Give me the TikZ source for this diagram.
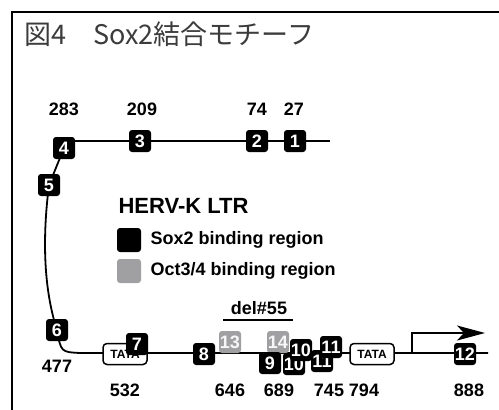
\documentclass[tikz,border=0pt]{standalone}
\usepackage{fontspec}
\setmainfont{Liberation Sans}
\newfontfamily\jpfont{Noto Sans CJK JP}
\usetikzlibrary{arrows.meta,backgrounds}
\definecolor{titlegray}{RGB}{60,60,60}
\definecolor{octgray}{RGB}{160,160,163}

\begin{document}
\begin{tikzpicture}[x=1pt, y=-1pt,
    site/.style={fill=black, text=white, rounded corners=3pt, minimum size=22pt, inner sep=0pt, font=\fontsize{18}{18}\selectfont\bfseries},
    octsite/.style={site, fill=octgray, text=white!92!octgray},
    tata/.style={draw, line width=1.5pt, fill=white, rounded corners=4pt, minimum width=44pt, minimum height=21pt, inner sep=0pt, font=\fontsize{12}{12}\selectfont\bfseries},
    bplabel/.style={font=\fontsize{18}{18}\selectfont\bfseries},
    legtext/.style={anchor=west, font=\fontsize{18}{18}\selectfont\bfseries},
    dna/.style={line width=1.8pt}]
    \useasboundingbox (0,0) rectangle (499,410);
    \draw[line width=2pt] (12,410) -- (12,12) -- (499,12);
    \node[anchor=west, text=titlegray, font=\jpfont\fontsize{27}{27}\selectfont] (title) at (21,34) {図4　Sox2結合モチーフ};

    \node[bplabel] (p283) at (64,109) {283};
    \node[bplabel] (p209) at (142,109) {209};
    \node[bplabel] (p74) at (257,109) {74};
    \node[bplabel] (p27) at (294,109) {27};

    \node[site] (b4) at (64,148) {4};
    \node[site] (b3) at (140,141) {3};
    \node[site] (b2) at (257,141) {2};
    \node[site] (b1) at (295,141) {1};
    \node[site] (b5) at (49,185) {5};
    \node[site] (b6) at (57,330) {6};
    \coordinate (topend) at (330,141);
    \coordinate (botstart) at (80,353);
    \coordinate (botend) at (488,353);

    \node[anchor=west, font=\fontsize{22}{22}\selectfont\bfseries] (legtitle) at (115,206) {HERV-K LTR};
    \node[site, minimum size=24pt] (legsox) at (129,240) {};
    \node[legtext] (legsoxtxt) at (147,240) {Sox2 binding region};
    \node[octsite, minimum size=24pt] (legoct) at (129,271) {};
    \node[legtext] (legocttxt) at (147,271) {Oct3/4 binding region};

    \node[bplabel] (del) at (259,308) {del\#55};
    \draw[line width=1.5pt] (223,320) -- (293,320);

    \node[tata] (tata1) at (125,354) {TATA};
    \node[site] (b7) at (137,344) {7};
    \node[site] (b8) at (204,354) {8};
    \node[octsite] (b13) at (230,342) {13};
    \node[octsite] (b14) at (278,342) {14};
    \node[site] (b9) at (270,363) {9};
    \node[site] (b10low) at (294,364) {10};
    \node[site] (b11low) at (322,361) {11};
    \node[site] (b10) at (301,350) {10};
    \node[site] (b11) at (331,347) {11};
    \node[tata] (tata2) at (372,354) {TATA};
    \node[site] (b12) at (465,354) {12};
    \coordinate (tss) at (412,353);
    \coordinate (tsstip) at (485,333);

    \node[bplabel] (p477) at (57,366) {477};
    \node[bplabel] (p532) at (125,390) {532};
    \node[bplabel] (p646) at (230,390) {646};
    \node[bplabel] (p689) at (279,390) {689};
    \node[bplabel] (p745) at (329,390) {745};
    \node[bplabel] (p794) at (364,390) {794};
    \node[bplabel] (p888) at (469,390) {888};

    \begin{scope}[on background layer]
        \draw[dna] (b4.center |- b3.center) -- (topend);
        \draw[dna] (b4.center) -- (b5.center) .. controls (42,240) and (44,290) .. (b6.center) .. controls (61,352) .. (botstart) -- (botend);
        \draw[dna, -{Stealth[length=28pt,width=15pt,inset=7pt]}] (tss) |- (tsstip);
    \end{scope}
\end{tikzpicture}
\end{document}
